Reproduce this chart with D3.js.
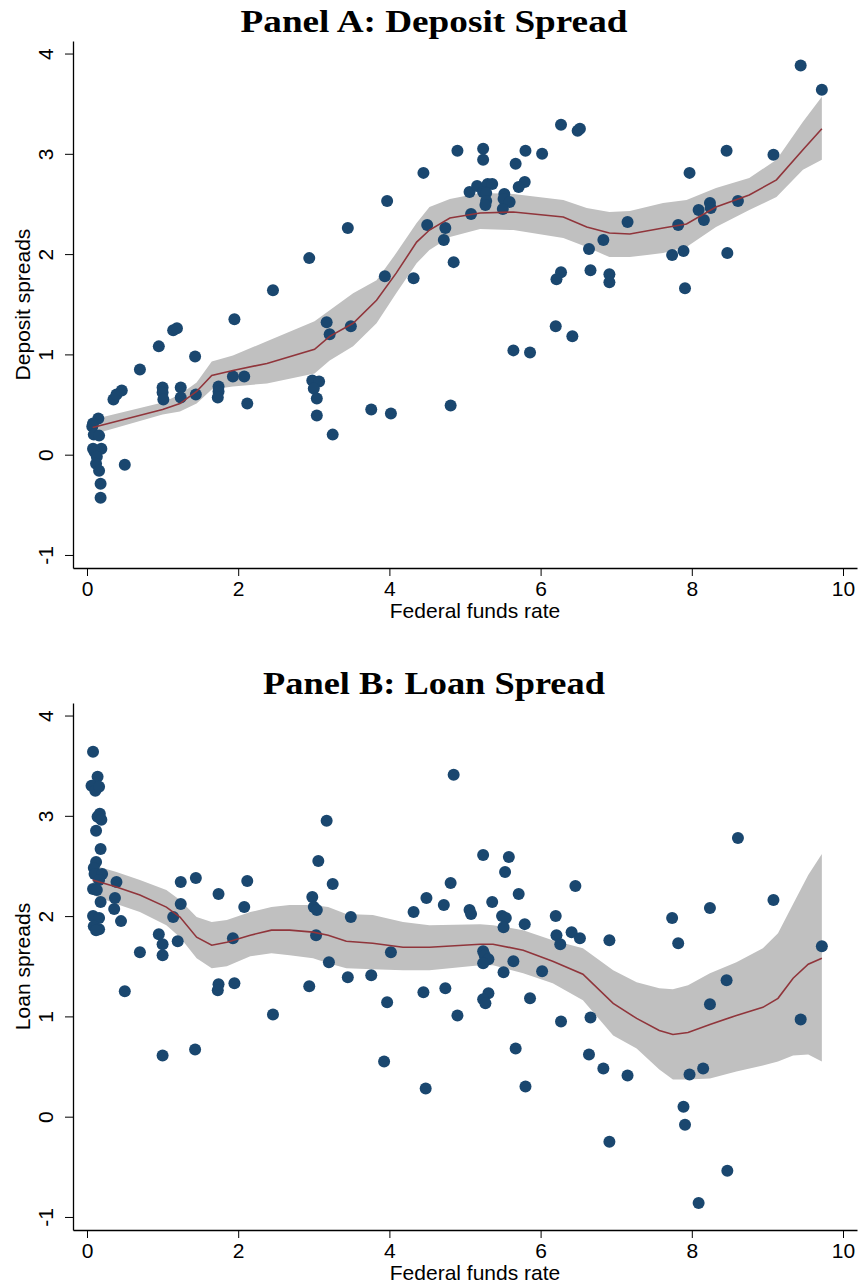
<!DOCTYPE html>
<html>
<head>
<meta charset="utf-8">
<script src="https://cdn.jsdelivr.net/npm/d3@7"></script>
<style>
  body { margin: 0; background: #fff; }
  svg { display: block; }
</style>
</head>
<body>
<div id="chart"></div>
<script>
// Panel A: deposit spreads vs fed funds rate [x, y]
const depositPoints = [
  [0.15,0.36],[0.08,0.31],[0.07,0.28],[0.09,0.20],[0.16,0.19],[0.08,0.06],[0.19,0.06],[0.10,0.03],
  [0.13,-0.02],[0.12,-0.09],[0.16,-0.16],[0.18,-0.29],[0.18,-0.43],[0.50,-0.10],[0.35,0.55],[0.39,0.60],
  [0.46,0.64],[0.70,0.85],[0.95,1.08],[1.00,0.67],[1.00,0.62],[1.01,0.55],[1.14,1.24],[1.19,1.26],
  [1.24,0.67],[1.24,0.57],[1.43,0.98],[1.44,0.60],[1.74,0.68],[1.74,0.63],[1.73,0.57],[1.95,1.35],
  [1.93,0.78],[2.08,0.78],[2.12,0.51],[2.98,0.74],[3.07,0.73],[3.00,0.66],[3.04,0.56],[3.04,0.39],
  [3.25,0.20],[3.17,1.32],[3.21,1.20],[3.49,1.28],[3.76,0.45],[4.02,0.41],[4.45,2.81],[3.97,2.53],
  [3.45,2.26],[2.94,1.96],[2.46,1.64],[3.94,1.78],[4.32,1.76],[4.50,2.29],[9.44,3.88],[9.72,3.64],
  [6.27,3.29],[6.49,3.23],[6.52,3.25],[4.90,3.03],[5.24,3.05],[5.24,2.94],[5.80,3.03],[6.02,3.00],
  [5.67,2.90],[5.79,2.72],[5.71,2.67],[5.06,2.62],[5.16,2.68],[5.30,2.70],[5.36,2.70],[5.24,2.62],
  [5.28,2.61],[5.52,2.60],[5.51,2.55],[5.59,2.52],[5.28,2.53],[5.27,2.49],[5.50,2.45],[5.08,2.40],
  [4.74,2.26],[4.72,2.14],[4.85,1.92],[7.15,2.32],[6.83,2.14],[6.64,2.05],[6.66,1.84],[6.27,1.82],
  [6.21,1.75],[6.91,1.80],[6.91,1.72],[7.74,1.99],[7.89,2.03],[7.82,2.29],[7.97,2.81],[7.91,1.66],
  [8.09,2.44],[8.16,2.34],[8.24,2.51],[8.25,2.46],[8.46,3.03],[8.47,2.01],[8.61,2.53],[9.08,2.99],
  [4.81,0.49],[5.64,1.04],[5.86,1.02],[6.20,1.28],[6.42,1.18]
];

// Panel A: smoothed fit and confidence band
const depositFitX  = [0.075,1.0,1.23,1.45,1.65,1.93,2.38,3.01,3.21,3.52,3.83,4.09,4.36,4.53,4.80,5.20,5.64,6.30,6.61,6.91,7.18,7.62,7.93,8.32,8.76,9.12,9.47,9.72];
const depositFitY  = [0.27,0.45,0.51,0.63,0.79,0.84,0.91,1.05,1.18,1.31,1.54,1.81,2.12,2.24,2.36,2.41,2.42,2.37,2.27,2.21,2.20,2.26,2.30,2.47,2.59,2.74,3.04,3.25];
const depositFitHi = [0.35,0.52,0.60,0.72,0.93,0.99,1.13,1.33,1.44,1.61,1.74,2.01,2.31,2.47,2.55,2.61,2.60,2.54,2.46,2.42,2.43,2.51,2.54,2.66,2.76,2.94,3.32,3.57];
const depositFitLo = [0.20,0.40,0.43,0.51,0.65,0.68,0.71,0.81,0.94,1.08,1.31,1.61,1.91,2.04,2.17,2.25,2.24,2.16,2.07,1.97,1.97,2.01,2.07,2.27,2.44,2.57,2.84,2.94];

// Panel B: loan spreads vs fed funds rate [x, y]
const loanPoints = [
  [0.08,3.64],[0.14,3.39],[0.06,3.30],[0.11,3.25],[0.16,3.29],[0.17,3.02],[0.14,2.99],[0.19,2.96],
  [0.12,2.85],[0.18,2.67],[0.12,2.54],[0.09,2.48],[0.10,2.42],[0.20,2.42],[0.16,2.36],[0.08,2.27],
  [0.13,2.26],[0.18,2.14],[0.08,2.00],[0.16,1.98],[0.09,1.90],[0.16,1.87],[0.12,1.86],[0.39,2.34],
  [0.37,2.18],[0.36,2.07],[0.45,1.95],[0.70,1.64],[0.95,1.82],[1.00,1.72],[1.00,1.61],[1.14,1.99],
  [1.20,1.75],[1.24,2.34],[1.24,2.12],[1.44,2.38],[1.74,2.22],[1.93,1.78],[2.08,2.09],[2.12,2.35],
  [2.98,2.19],[3.00,2.09],[3.04,2.06],[3.06,2.55],[3.17,2.95],[3.25,2.32],[3.03,1.81],[3.20,1.54],
  [3.49,1.99],[4.02,1.64],[4.32,2.04],[4.49,2.18],[0.50,1.25],[1.00,0.61],[1.43,0.67],[1.74,1.32],
  [1.73,1.26],[1.95,1.33],[2.46,1.02],[2.94,1.30],[3.45,1.39],[3.76,1.41],[3.97,1.14],[3.93,0.55],
  [4.45,1.24],[4.48,0.28],[4.85,3.41],[8.61,2.78],[5.24,2.61],[5.58,2.59],[5.53,2.44],[4.81,2.33],
  [6.46,2.30],[5.71,2.22],[4.72,2.11],[5.36,2.14],[5.06,2.06],[5.08,2.02],[5.49,2.00],[5.54,1.98],
  [5.51,1.89],[5.79,1.92],[6.20,2.00],[6.21,1.81],[6.26,1.72],[6.41,1.84],[6.52,1.78],[6.91,1.76],
  [7.74,1.98],[8.24,2.08],[9.08,2.16],[9.72,1.70],[7.82,1.73],[5.24,1.65],[5.26,1.61],[5.31,1.57],
  [5.24,1.53],[5.64,1.55],[5.51,1.44],[6.02,1.45],[4.74,1.28],[5.31,1.23],[5.24,1.17],[5.27,1.13],
  [5.86,1.18],[4.90,1.01],[6.27,0.95],[6.66,0.99],[8.46,1.36],[8.24,1.12],[9.44,0.97],[5.67,0.68],
  [6.64,0.62],[6.83,0.48],[7.15,0.41],[7.97,0.42],[8.15,0.48],[5.80,0.30],[7.89,0.10],[7.91,-0.08],
  [6.91,-0.25],[8.47,-0.54],[8.09,-0.86]
];

// Panel B: smoothed fit and confidence band
const loanFitX  = [0.075,0.39,0.70,1.05,1.23,1.45,1.65,1.85,2.16,2.44,2.68,2.99,3.19,3.43,3.78,4.18,4.53,5.20,5.37,5.77,6.16,6.56,6.96,7.27,7.57,7.75,7.95,8.24,8.59,8.94,9.14,9.34,9.54,9.72];
const loanFitY  = [2.36,2.29,2.21,2.09,1.99,1.79,1.71,1.74,1.81,1.86,1.86,1.84,1.81,1.75,1.73,1.69,1.69,1.72,1.72,1.66,1.55,1.42,1.13,0.98,0.86,0.82,0.84,0.92,1.01,1.09,1.18,1.38,1.52,1.58];
const loanFitHi = [2.51,2.44,2.36,2.26,2.16,1.99,1.94,1.96,2.04,2.09,2.11,2.11,2.09,2.02,2.01,1.94,1.91,1.92,1.91,1.86,1.76,1.68,1.46,1.34,1.28,1.27,1.31,1.43,1.54,1.68,1.83,2.12,2.41,2.62];
const loanFitLo = [2.21,2.12,2.04,1.91,1.79,1.58,1.48,1.50,1.60,1.63,1.61,1.58,1.53,1.48,1.47,1.46,1.46,1.51,1.51,1.43,1.33,1.16,0.81,0.68,0.47,0.37,0.37,0.38,0.45,0.51,0.55,0.61,0.62,0.55];

const xTicks = [0, 2, 4, 6, 8, 10];
const yTicks = [-1, 0, 1, 2, 3, 4];

const W = 859, H = 1287;
const svg = d3.select("#chart").append("svg")
  .attr("width", W)
  .attr("height", H);

const sans = "'Liberation Sans', Arial, Helvetica, sans-serif";

function drawPanel(cfg) {
  const top = cfg.top;          // top of the y axis line
  const bottom = top + 527;     // x axis line

  const x = d3.scaleLinear().domain([-0.185, 10.185]).range([73, 857]);
  const y = d3.scaleLinear().domain([-1.13, 4.125]).range([bottom, top]);

  const g = svg.append("g");

  // title: wide bold serif, stretched horizontally to the reference width
  const title = g.append("text")
    .attr("text-anchor", "middle")
    .style("font-family", "'Liberation Serif', 'Times New Roman', serif")
    .style("font-weight", "bold")
    .style("font-size", "31px")
    .text(cfg.title);
  const natural = title.node().getComputedTextLength();
  const sx = cfg.titleWidth / natural;
  title.attr("transform", `translate(434, ${top - 9}) scale(${sx}, 1)`);

  // confidence band
  const band = cfg.fitX.map((v, i) => ({ x: v, lo: cfg.fitLo[i], hi: cfg.fitHi[i], y: cfg.fitY[i] }));
  g.append("path")
    .datum(band)
    .attr("fill", "#c0c0c0")
    .attr("d", d3.area().x(d => x(d.x)).y0(d => y(d.lo)).y1(d => y(d.hi)));

  // points
  g.selectAll(".dot")
    .data(cfg.points)
    .enter()
    .append("circle")
    .attr("class", "dot")
    .attr("cx", d => x(d[0]))
    .attr("cy", d => y(d[1]))
    .attr("r", 6)
    .attr("fill", "#1a476f");

  // fitted line
  g.append("path")
    .datum(band)
    .attr("fill", "none")
    .attr("stroke", "#90353b")
    .attr("stroke-width", 1.6)
    .attr("d", d3.line().x(d => x(d.x)).y(d => y(d.y)));

  // x axis
  const xAxis = g.append("g")
    .attr("transform", `translate(0, ${bottom})`)
    .call(d3.axisBottom(x).tickValues(xTicks).tickSize(8).tickSizeOuter(0).tickFormat(d => String(d)));
  xAxis.select(".domain").attr("stroke-width", 1.3);
  xAxis.selectAll("text")
    .attr("y", 13)
    .style("font-family", sans)
    .style("font-size", "21px")
    .attr("fill", "#000");

  // y axis, tick labels rotated
  const yAxis = g.append("g")
    .attr("transform", `translate(73, 0)`)
    .call(d3.axisLeft(y).tickValues(yTicks).tickSize(8).tickSizeOuter(0).tickFormat(d => String(d)));
  yAxis.select(".domain").attr("stroke-width", 1.3);
  yAxis.selectAll("text")
    .attr("x", 0)
    .attr("dy", 0)
    .attr("text-anchor", "middle")
    .attr("transform", "translate(-20, 0) rotate(-90)")
    .style("font-family", sans)
    .style("font-size", "21px")
    .attr("fill", "#000");

  // axis titles
  g.append("text")
    .attr("x", 475)
    .attr("y", bottom + 50)
    .attr("text-anchor", "middle")
    .style("font-family", sans)
    .style("font-size", "21px")
    .text("Federal funds rate");

  g.append("text")
    .attr("transform", `translate(30, ${(top + bottom) / 2}) rotate(-90)`)
    .attr("text-anchor", "middle")
    .style("font-family", sans)
    .style("font-size", "21px")
    .text(cfg.yLabel);
}

drawPanel({
  top: 41,
  title: "Panel A: Deposit Spread",
  titleWidth: 387,
  yLabel: "Deposit spreads",
  points: depositPoints,
  fitX: depositFitX, fitY: depositFitY, fitLo: depositFitLo, fitHi: depositFitHi
});

drawPanel({
  top: 703,
  title: "Panel B: Loan Spread",
  titleWidth: 342,
  yLabel: "Loan spreads",
  points: loanPoints,
  fitX: loanFitX, fitY: loanFitY, fitLo: loanFitLo, fitHi: loanFitHi
});
</script>
</body>
</html>
